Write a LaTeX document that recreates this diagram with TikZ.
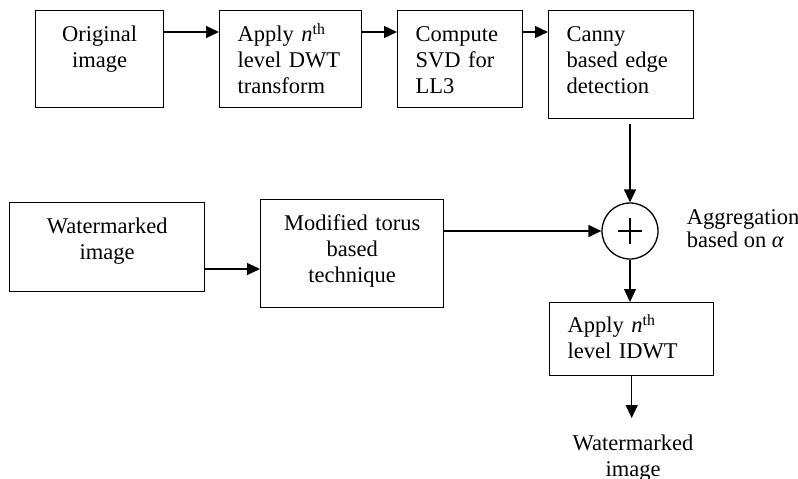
\documentclass[tikz,border=0pt]{standalone}
\usepackage{fontspec}
\setmainfont{Liberation Serif}
\usetikzlibrary{arrows.meta}

\begin{document}
\begin{tikzpicture}[x=1pt, y=-1pt, line width=1.3pt,
  font=\fontsize{22.5pt}{26pt}\selectfont,
  blk/.style={draw, line width=1.4pt, anchor=north west, inner xsep=18pt, inner ysep=0pt, text height=31pt},
  arr/.style={-{Triangle[length=13pt,width=12pt]}}]
  \useasboundingbox (0,0) rectangle (798,479);
  \node [blk, text width=92pt, text depth=66pt, align=center] (orig) at (35,10) {Original\\image};
  \node [blk, text width=106pt, text depth=66pt, align=left] (dwt) at (219,10) {Apply \textit{n}\textsuperscript{th}\\level DWT\\transform};
  \node [blk, text width=89pt, text depth=66pt, align=left] (svd) at (397,10) {Compute\\SVD for\\LL3};
  \node [blk, text width=109pt, text depth=77pt, align=left] (canny) at (548,10) {Canny\\based edge\\detection};
  \node [blk, text width=159pt, text depth=58pt, align=center] (wm) at (9,202) {Watermarked\\image};
  \node [blk, text width=147pt, text depth=77pt, align=center] (torus) at (260,199) {Modified torus\\based\\technique};
  \node [blk, text width=128pt, text height=30pt, text depth=43pt, align=left] (idwt) at (549,302) {Apply \textit{n}\textsuperscript{th}\\level IDWT};
  \node [draw, circle, minimum size=56pt, inner sep=0pt] (sum) at (630,231) {};
  \draw (sum.center) +(-12,0) -- +(12,0) (sum.center) +(0,-13) -- +(0,13);
  \node [anchor=base west, align=left, font=\fontsize{22.5pt}{22.5pt}\selectfont] (agg) at (683,247) {Aggregation\\based on \textit{α}};
  \node [anchor=north, text width=140pt, align=center, text height=32pt, inner ysep=0pt] (out) at (633,418) {Watermarked\\image};

  \draw [arr] ([yshift=-22pt]orig.north east) -- ([yshift=-22pt]dwt.north west);
  \draw [arr] ([yshift=-22pt]dwt.north east) -- ([yshift=-22pt]svd.north west);
  \draw [arr] ([yshift=-22pt]svd.north east) -- ([yshift=-22pt]canny.north west);
  \draw [arr] (canny.south -| sum.north) ++(0,5) -- (sum.north);
  \coordinate (wmout) at ([yshift=-67pt]wm.north east);
  \draw [arr] (wmout) -- (wmout -| torus.west);
  \draw [arr] (torus.east |- sum.west) -- (sum.west);
  \draw [arr] (sum.south) -- (sum.south |- idwt.north);
  \draw [arr] (idwt.south) -- (idwt.south |- out.north);
\end{tikzpicture}
\end{document}
